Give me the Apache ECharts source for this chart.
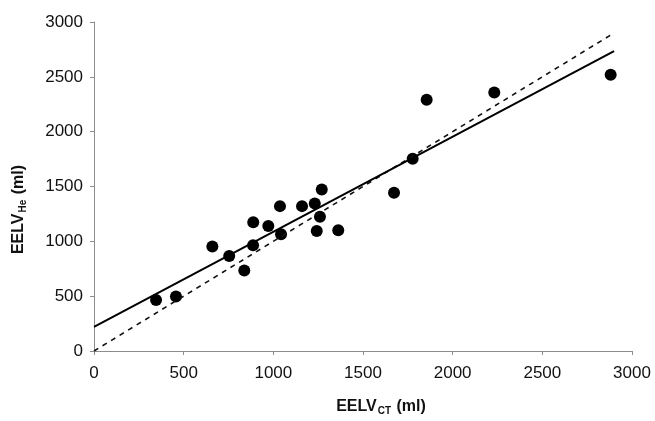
<!DOCTYPE html>
<html>
<head>
<meta charset="utf-8">
<script src="https://cdn.jsdelivr.net/npm/echarts@6/dist/echarts.min.js"></script>
<style>
  html, body { margin: 0; padding: 0; background: #fff; }
  #chart { width: 655px; height: 421px; }
</style>
</head>
<body>
<div id="chart"></div>
<script>
// EELV measured by CT (x) vs helium dilution (y), ml
var eelvCT = [346, 457, 660, 754, 838, 887, 888, 972, 1037, 1043, 1160,
              1231, 1260, 1242, 1270, 1362, 1673, 1777, 1855, 2232, 2881];
var eelvHe = [464, 497, 952, 866, 734, 964, 1175, 1139, 1321, 1064, 1321,
              1345, 1225, 1094, 1473, 1100, 1443, 1752, 2291, 2357, 2518];

// regression line (solid) and line of identity (dashed), end points
var fitLine = [[0, 220], [2900, 2735]];
var identityLine = [[0, 0], [2900, 2900]];

var axisTicks = { min: 0, max: 3000, interval: 500 };

var points = eelvCT.map(function (x, i) { return [x, eelvHe[i]]; });

var myChart = echarts.init(document.getElementById('chart'));

var titleRich = {
  a: { fontSize: 16, fontWeight: 'bold', color: '#111', fontFamily: 'Liberation Sans' },
  b: { fontSize: 10, fontWeight: 'bold', color: '#111', fontFamily: 'Liberation Sans', padding: [9, 1, 0, 1] }
};

// plain numbers, no thousands separator
function plain(v) { return String(v); }

myChart.setOption({
  animation: false,
  backgroundColor: '#fff',
  grid: { left: 94, right: 23, top: 22, bottom: 69 },
  xAxis: {
    type: 'value',
    min: axisTicks.min,
    max: axisTicks.max,
    interval: axisTicks.interval,
    name: '{a|EELV}{b|CT}{a| (ml)}',
    nameLocation: 'middle',
    nameGap: 46,
    nameTextStyle: { rich: titleRich, padding: [0, 0, 0, 36] },
    axisLine: { show: true, lineStyle: { color: '#8c8c8c', width: 1 } },
    axisTick: { show: true, length: 4, lineStyle: { color: '#8c8c8c' } },
    splitLine: { show: false },
    axisLabel: {
      margin: 14,
      fontSize: 17,
      color: '#111',
      fontFamily: 'Liberation Sans',
      formatter: plain
    }
  },
  yAxis: {
    type: 'value',
    min: axisTicks.min,
    max: axisTicks.max,
    interval: axisTicks.interval,
    name: '{a|EELV}{b|He}{a| (ml)}',
    nameLocation: 'middle',
    nameGap: 66,
    nameTextStyle: { rich: titleRich, padding: [0, 46, 0, 0] },
    axisLine: { show: true, lineStyle: { color: '#8c8c8c', width: 1 } },
    axisTick: { show: true, length: 4, lineStyle: { color: '#8c8c8c' } },
    splitLine: { show: false },
    axisLabel: {
      margin: 11,
      fontSize: 17,
      color: '#111',
      fontFamily: 'Liberation Sans',
      formatter: plain
    }
  },
  series: [
    {
      type: 'line',
      data: identityLine,
      showSymbol: false,
      silent: true,
      lineStyle: { color: '#111', width: 1.6, type: [5, 5] }
    },
    {
      type: 'line',
      data: fitLine,
      showSymbol: false,
      silent: true,
      lineStyle: { color: '#000', width: 2 }
    },
    {
      type: 'scatter',
      data: points,
      symbol: 'circle',
      symbolSize: 12,
      itemStyle: { color: '#000', opacity: 1 }
    }
  ]
});
</script>
</body>
</html>
